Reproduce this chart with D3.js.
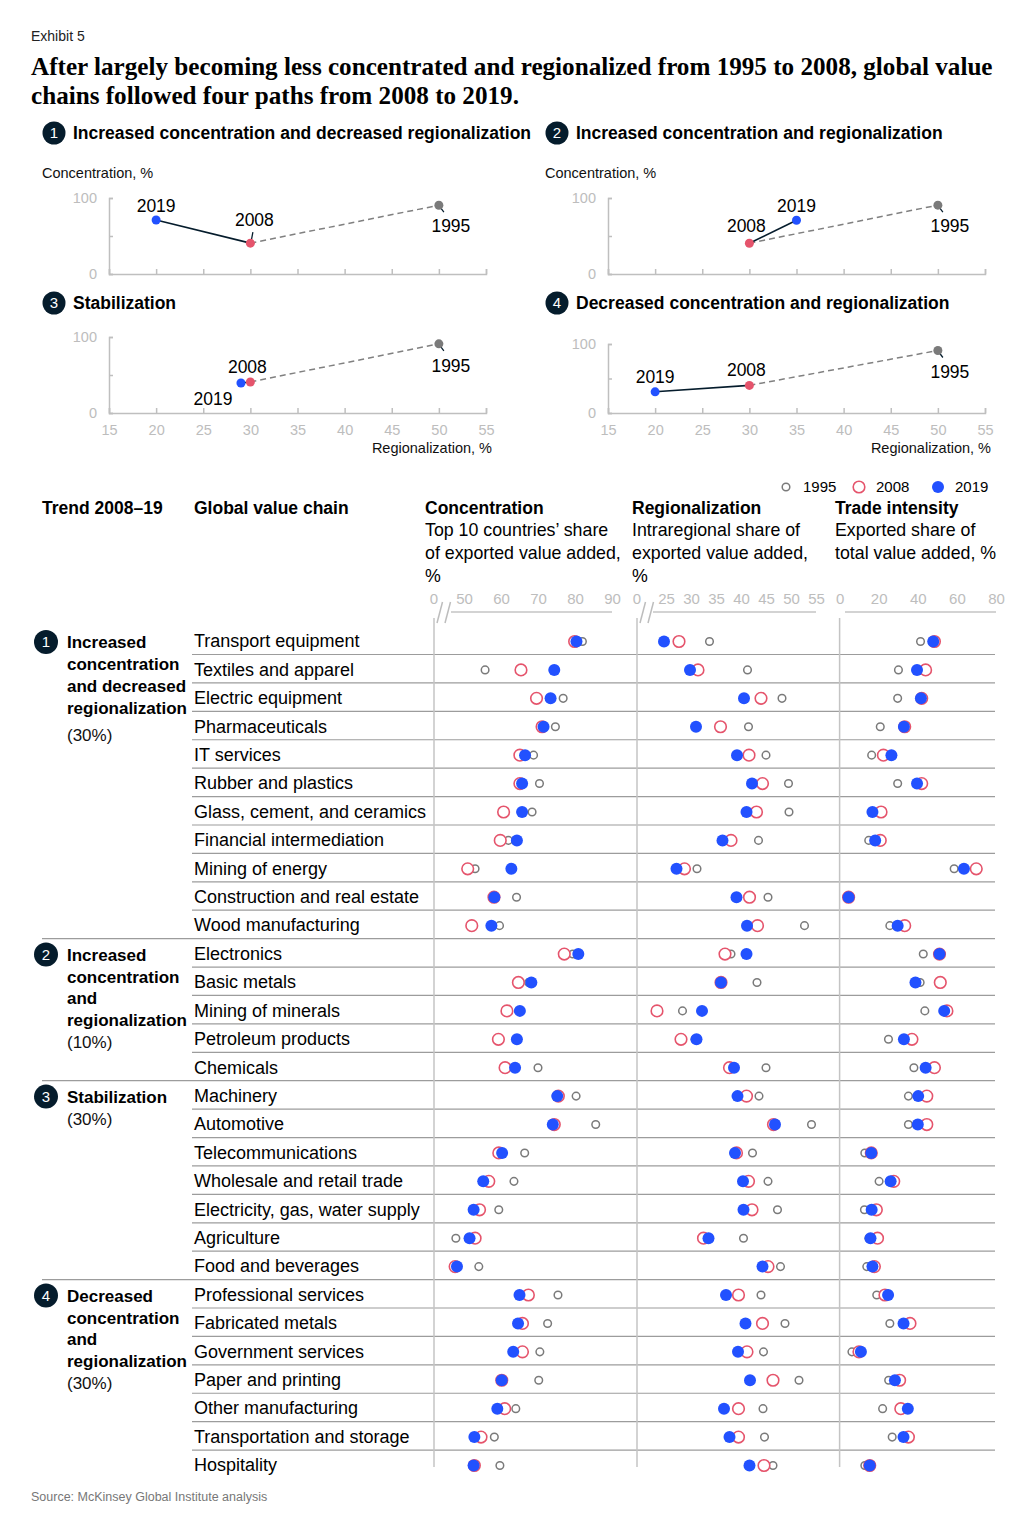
<!DOCTYPE html>
<html>
<head>
<meta charset="UTF-8">
<title>Exhibit 5</title>
<style>
  body { margin: 0; background: #fff; }
  svg { display: block; font-family: "Liberation Sans", Arial, sans-serif; }
  .axis path, .axis line { stroke: #bfbfbf; stroke-width: 1.5; }
  .axis text { fill: #bdbdbd; font-size: 14.5px; font-family: "Liberation Sans", Arial, sans-serif; }
  .halo { paint-order: stroke; stroke: #fff; stroke-width: 4px; stroke-linejoin: round; }
</style>
</head>
<body>
<svg id="chart"></svg>
<script src="https://d3js.org/d3.v7.min.js"></script>
<script>

// ---- data: four paths (small charts) ----
const pathNames = ["Increased concentration and decreased regionalization",
                   "Increased concentration and regionalization",
                   "Stabilization",
                   "Decreased concentration and regionalization"];
const pathReg1995  = [50, 50, 50, 50];
const pathReg2008  = [30, 30, 30, 30];
const pathReg2019  = [20, 35, 29, 20];
const pathConc1995 = [90.5, 90.6, 91, 90.6];
const pathConc2008 = [40.6, 40.5, 40.8, 40];
const pathConc2019 = [71, 70.7, 39.5, 30.7];
const pathXTicks = [15, 20, 25, 30, 35, 40, 45, 50, 55];

// ---- data: value chains ----
const chains = ["Transport equipment", "Textiles and apparel", "Electric equipment", "Pharmaceuticals",
  "IT services", "Rubber and plastics", "Glass, cement, and ceramics", "Financial intermediation",
  "Mining of energy", "Construction and real estate", "Wood manufacturing",
  "Electronics", "Basic metals", "Mining of minerals", "Petroleum products", "Chemicals",
  "Machinery", "Automotive", "Telecommunications", "Wholesale and retail trade",
  "Electricity, gas, water supply", "Agriculture", "Food and beverages",
  "Professional services", "Fabricated metals", "Government services", "Paper and printing",
  "Other manufacturing", "Transportation and storage", "Hospitality"];

const conc1995 = [82, 55.7, 76.8, 74.7, 68.8, 70.4, 68.4, 62, 53, 64.2, 59.6,
  79.4, 67.5, 64.8, 64, 70,
  80.3, 85.6, 66.4, 63.5, 59.4, 47.8, 54,
  75.4, 72.6, 70.5, 70.2, 64, 58.2, 59.7];
const conc2008 = [79.9, 65.4, 69.6, 71.1, 65.1, 65.1, 60.7, 59.8, 51, 58.1, 52.1,
  77.1, 64.7, 61.6, 59.3, 61.1,
  75.5, 74.4, 59.4, 56.7, 54.2, 53, 47.6,
  67.4, 65.8, 65.8, 60.2, 61, 54.6, 52.8];
const conc2019 = [80.4, 74.4, 73.4, 71.5, 66.5, 65.7, 65.7, 64.3, 62.8, 58.2, 57.4,
  80.9, 68.2, 65.1, 64.3, 63.8,
  75.2, 74, 60.3, 55.2, 52.6, 51.5, 48.1,
  65, 64.6, 63.3, 60.2, 59, 52.8, 52.6];

const reg1995 = [33.7, 41.3, 48.2, 41.5, 45, 49.5, 49.6, 43.5, 31.2, 45.4, 52.7,
  38, 43.2, 28.3, 30.8, 45,
  43.6, 54.1, 42.3, 45.4, 47.3, 40.5, 47.9,
  44, 48.8, 44.5, 51.6, 44.4, 44.7, 46.4];
const reg2008 = [27.6, 31.4, 44, 35.9, 41.6, 44.3, 43.1, 38, 28.7, 41.7, 43.3,
  36.8, 36, 23.2, 28, 37.7,
  41.1, 46.5, 39.1, 41.5, 42.2, 32.5, 45.4,
  39.5, 44.3, 41.2, 46.4, 39.5, 39.5, 44.6];
const reg2019 = [24.6, 29.8, 40.6, 31, 39.2, 42.2, 41.1, 36.3, 27.1, 39.1, 41.2,
  41.1, 36, 32.2, 31.1, 38.6,
  39.3, 46.8, 38.8, 40.4, 40.5, 33.5, 44.3,
  37, 40.9, 39.4, 41.8, 36.6, 37.7, 41.7];

const trade1995 = [41.4, 30.1, 29.7, 20.8, 16.4, 29.7, 16.5, 14.9, 58.6, 4.3, 25.7,
  42.8, 41.2, 43.6, 25, 38,
  35.2, 35.2, 12.9, 20.2, 12.7, 15, 13.9,
  19, 25.7, 6.3, 25.1, 22, 26.9, 12.9];
const trade2008 = [48.5, 44, 42, 33.3, 22.4, 42, 21.2, 20.8, 69.9, 4.6, 33.3,
  51.1, 51.5, 54.9, 37, 48.5,
  44.6, 44.6, 16.2, 27.7, 18.8, 19.4, 17.8,
  23.2, 36, 9.9, 30.7, 31.3, 35.2, 15.4];
const trade2019 = [47.9, 39.6, 41.6, 32.9, 26.5, 39.6, 16.8, 18.2, 63.6, 4.6, 29.7,
  51.1, 38.8, 53.5, 32.9, 44,
  40.2, 40, 16.2, 26.1, 16.4, 15.8, 16.8,
  24.8, 32.7, 10.9, 28.3, 34.9, 32.7, 15.4];

const concTicks = [50, 60, 70, 80, 90];
const regTicks = [25, 30, 35, 40, 45, 50, 55];
const tradeTicks = [0, 20, 40, 60, 80];

// trend groups: first row index and label
const groupStart = [0, 11, 16, 23];
const groupLabels = [["Increased", "concentration", "and decreased", "regionalization"],
                     ["Increased", "concentration", "and", "regionalization"],
                     ["Stabilization"],
                     ["Decreased", "concentration", "and", "regionalization"]];
const groupShare = ["(30%)", "(10%)", "(30%)", "(30%)"];

const years = ["1995", "2008", "2019"];

// ---- styling ----
const navy = "#051c2c", blue = "#2251ff", red = "#e5546c", grey = "#7a7a7a";
const width = 1030, height = 1521;

const svg = d3.select("#chart").attr("width", width).attr("height", height);

// helper: shrink/grow text to a target width
function fitText(sel, target) {
  const len = sel.node().getComputedTextLength();
  const fs = parseFloat(sel.style("font-size"));
  sel.style("font-size", (fs * target / len) + "px");
}

function badge(g, x, y, n, r) {
  g.append("circle").attr("cx", x).attr("cy", y).attr("r", r).attr("fill", navy);
  g.append("text").attr("x", x).attr("y", y).attr("dy", "0.36em")
    .attr("text-anchor", "middle").attr("fill", "#fff").style("font-size", "15px").text(n);
}

// ---- header ----
svg.append("text").attr("x", 31).attr("y", 41).style("font-size", "14px").attr("fill", "#222").text("Exhibit 5");
const t1 = svg.append("text").attr("x", 31).attr("y", 75)
  .style("font-family", "'Liberation Serif', 'Times New Roman', serif").style("font-weight", "bold")
  .style("font-size", "25px").attr("fill", "#000")
  .text("After largely becoming less concentrated and regionalized from 1995 to 2008, global value");
fitText(t1, 962);
svg.append("text").attr("x", 31).attr("y", 104)
  .style("font-family", "'Liberation Serif', 'Times New Roman', serif").style("font-weight", "bold")
  .style("font-size", t1.style("font-size")).attr("fill", "#000")
  .text("chains followed four paths from 2008 to 2019.");

// ---- four small path charts ----
const panels = [
  { x0: 109, x1: 486, yTop: 198, yBot: 274, titleX: 42, titleY: 133, concLabel: true, xLabels: false },
  { x0: 608, x1: 985, yTop: 198, yBot: 274, titleX: 545, titleY: 133, concLabel: true, xLabels: false },
  { x0: 109, x1: 486, yTop: 337, yBot: 413, titleX: 42, titleY: 303, concLabel: false, xLabels: true },
  { x0: 608, x1: 985, yTop: 344, yBot: 413, titleX: 545, titleY: 303, concLabel: false, xLabels: true }
];
// label offsets relative to each point [1995, 2008, 2019]
const labelOff = [
  [[12, 21], [4, -23], [0, -14]],
  [[12, 21], [-3, -17], [0, -14]],
  [[12, 22], [-3, -15], [-28, 16]],
  [[12, 21], [-3, -16], [0, -15]]
];

panels.forEach((p, i) => {
  const g = svg.append("g");
  badge(g, p.titleX + 12, p.titleY, i + 1, 11.5);
  g.append("text").attr("x", p.titleX + 31).attr("y", p.titleY).attr("dy", "0.35em")
    .style("font-size", "17.5px").style("font-weight", "bold").attr("fill", "#000").text(pathNames[i]);
  if (p.concLabel) {
    g.append("text").attr("x", p.titleX).attr("y", 173).attr("dy", "0.35em")
      .style("font-size", "14.5px").attr("fill", "#111").text("Concentration, %");
  }

  const x = d3.scaleLinear().domain([15, 55]).range([p.x0, p.x1]);
  const y = d3.scaleLinear().domain([0, 100]).range([p.yBot, p.yTop]);

  g.append("g").attr("class", "axis").attr("transform", `translate(${p.x0},0)`)
    .call(d3.axisLeft(y).tickValues([0, 50, 100]).tickSizeInner(-4).tickSizeOuter(-4).tickPadding(12)
      .tickFormat(d => d === 50 ? "" : d));
  const xa = g.append("g").attr("class", "axis").attr("transform", `translate(0,${p.yBot})`)
    .call(d3.axisBottom(x).tickValues(pathXTicks).tickSizeInner(-5).tickSizeOuter(-5).tickPadding(9)
      .tickFormat(d => p.xLabels ? d : ""));
  xa.selectAll("text").attr("dy", "0.9em");
  if (p.xLabels) {
    g.append("text").attr("x", p.x1 + 6).attr("y", 448).attr("dy", "0.35em").attr("text-anchor", "end")
      .style("font-size", "14.5px").attr("fill", "#111").text("Regionalization, %");
  }

  const pts = [[pathReg1995[i], pathConc1995[i]], [pathReg2008[i], pathConc2008[i]], [pathReg2019[i], pathConc2019[i]]]
    .map(d => [x(d[0]), y(d[1])]);

  g.append("line").attr("x1", pts[1][0]).attr("y1", pts[1][1]).attr("x2", pts[0][0]).attr("y2", pts[0][1])
    .attr("stroke", "#808080").attr("stroke-width", 1.5).attr("stroke-dasharray", "6,4");
  g.append("line").attr("x1", pts[2][0]).attr("y1", pts[2][1]).attr("x2", pts[1][0]).attr("y2", pts[1][1])
    .attr("stroke", navy).attr("stroke-width", 1.6);

  // leader line from the 1995 point to its label
  g.append("line").attr("x1", pts[0][0] + 2).attr("y1", pts[0][1] + 3).attr("x2", pts[0][0] + 5).attr("y2", pts[0][1] + 7)
    .attr("stroke", navy).attr("stroke-width", 1.3);
  if (i === 0) {
    g.append("line").attr("x1", pts[1][0] + 2.5).attr("y1", pts[1][1] - 11).attr("x2", pts[1][0] + 1).attr("y2", pts[1][1] - 3)
      .attr("stroke", navy).attr("stroke-width", 1.3);
  }

  const cols = [grey, red, blue];
  years.forEach((yr, k) => {
    g.append("text").attr("class", "halo")
      .attr("x", pts[k][0] + labelOff[i][k][0]).attr("y", pts[k][1] + labelOff[i][k][1]).attr("dy", "0.35em")
      .attr("text-anchor", "middle").style("font-size", "17.5px").attr("fill", "#000").text(yr);
  });
  years.forEach((yr, k) => {
    g.append("circle").attr("cx", pts[k][0]).attr("cy", pts[k][1]).attr("r", 4.5).attr("fill", cols[k]);
  });
});

// ---- table ----
const rowY = d3.scalePoint().domain(chains).range([641, 1465]);
const concX = d3.scaleLinear().domain([50, 90]).range([464, 612]);
const regX = d3.scaleLinear().domain([25, 55]).range([666, 816]);
const tradeX = d3.scaleLinear().domain([0, 80]).range([839.6, 996]);

// column headers
const hdr = svg.append("g").attr("fill", "#000");
[["Trend 2008–19", 42], ["Global value chain", 194], ["Concentration", 425], ["Regionalization", 632], ["Trade intensity", 835]]
  .forEach(d => hdr.append("text").attr("x", d[1]).attr("y", 508).attr("dy", "0.35em")
    .style("font-size", "17.5px").style("font-weight", "bold").text(d[0]));
const subs = [[425, ["Top 10 countries’ share", "of exported value added,", "%"]],
              [632, ["Intraregional share of", "exported value added,", "%"]],
              [835, ["Exported share of", "total value added, %"]]];
subs.forEach(s => s[1].forEach((l, j) =>
  hdr.append("text").attr("x", s[0]).attr("y", 530 + j * 23).attr("dy", "0.35em")
    .style("font-size", "17.8px").text(l)));

// legend
const leg = svg.append("g");
leg.append("circle").attr("cx", 786).attr("cy", 487).attr("r", 3.8).attr("fill", "none").attr("stroke", grey).attr("stroke-width", 1.5);
leg.append("circle").attr("cx", 859).attr("cy", 487).attr("r", 5.8).attr("fill", "none").attr("stroke", red).attr("stroke-width", 1.6);
leg.append("circle").attr("cx", 938).attr("cy", 487).attr("r", 6).attr("fill", blue);
[["1995", 803], ["2008", 876], ["2019", 955]].forEach(d =>
  leg.append("text").attr("x", d[1]).attr("y", 487).attr("dy", "0.35em").style("font-size", "15px").attr("fill", "#000").text(d[0]));

// row separators
const sep = svg.append("g");
chains.slice(0, -1).forEach((c, i) => {
  const isGroupEnd = groupStart.includes(i + 1);
  sep.append("line").attr("x1", isGroupEnd ? 42 : 192).attr("x2", 995)
    .attr("y1", rowY(c) + 13.5).attr("y2", rowY(c) + 13.5)
    .attr("stroke", "#9c9c9c").attr("stroke-width", 1.2);
});

// column axes
const axisY = 612;
[[434, 451, concX, concTicks], [637, 653, regX, regTicks], [839.6, 845, tradeX, tradeTicks]].forEach(([vx, lx, sc, ticks], j) => {
  svg.append("line").attr("x1", vx).attr("x2", vx).attr("y1", 618).attr("y2", 1467)
    .attr("stroke", "#c4c4c4").attr("stroke-width", 1.5);
  svg.append("line").attr("x1", lx).attr("x2", sc.range()[1]).attr("y1", axisY).attr("y2", axisY)
    .attr("stroke", "#c4c4c4").attr("stroke-width", 1.5);
  const a = svg.append("g").attr("class", "axis").attr("transform", `translate(0,${axisY})`)
    .call(d3.axisTop(sc).tickValues(ticks).tickSize(0).tickPadding(8));
  a.select(".domain").remove();
  a.selectAll("text").style("font-size", "15px");
  if (j < 2) {
    svg.append("text").attr("x", vx).attr("y", axisY - 8).attr("text-anchor", "middle")
      .style("font-size", "15px").attr("fill", "#bdbdbd").text("0");
    [0, 8].forEach(o => svg.append("line")
      .attr("x1", vx + 3 + o).attr("y1", 623).attr("x2", vx + 8.5 + o).attr("y2", 602)
      .attr("stroke", "#bdbdbd").attr("stroke-width", 1.5));
  }
});

// row labels
svg.append("g").selectAll("text").data(chains).join("text")
  .attr("x", 194).attr("y", d => rowY(d)).attr("dy", "0.35em")
  .style("font-size", "18px").attr("fill", "#000").text(d => d);

// group labels
groupStart.forEach((s, i) => {
  const y0 = rowY(chains[s]);
  const g = svg.append("g");
  badge(g, 46, y0 + 1, i + 1, 12);
  groupLabels[i].forEach((l, j) => g.append("text").attr("x", 67).attr("y", y0 + 1.5 + j * 21.7).attr("dy", "0.35em")
    .style("font-size", "17px").style("font-weight", "bold").attr("fill", "#000").text(l));
  const extra = i === 0 ? 6 : 0;
  g.append("text").attr("x", 67).attr("y", y0 + 1.5 + groupLabels[i].length * 21.7 + extra).attr("dy", "0.35em")
    .style("font-size", "17px").attr("fill", "#111").text(groupShare[i]);
});

// dots
const series = [
  [concX, conc1995, conc2008, conc2019],
  [regX, reg1995, reg2008, reg2019],
  [tradeX, trade1995, trade2008, trade2019]
];
const dots = svg.append("g");
series.forEach(([sc, a, b, c]) => {
  dots.append("g").selectAll("circle").data(chains).join("circle")
    .attr("cx", (d, i) => sc(a[i])).attr("cy", d => rowY(d) + 0.5).attr("r", 3.8)
    .attr("fill", "#fff").attr("stroke", grey).attr("stroke-width", 1.5);
  dots.append("g").selectAll("circle").data(chains).join("circle")
    .attr("cx", (d, i) => sc(b[i])).attr("cy", d => rowY(d) + 0.5).attr("r", 5.8)
    .attr("fill", "#fff").attr("stroke", red).attr("stroke-width", 1.6);
  dots.append("g").selectAll("circle").data(chains).join("circle")
    .attr("cx", (d, i) => sc(c[i])).attr("cy", d => rowY(d) + 0.5).attr("r", 6)
    .attr("fill", blue);
});

// source
svg.append("text").attr("x", 31).attr("y", 1497).attr("dy", "0.35em")
  .style("font-size", "12.5px").attr("fill", "#777").text("Source: McKinsey Global Institute analysis");

</script>
</body>
</html>
